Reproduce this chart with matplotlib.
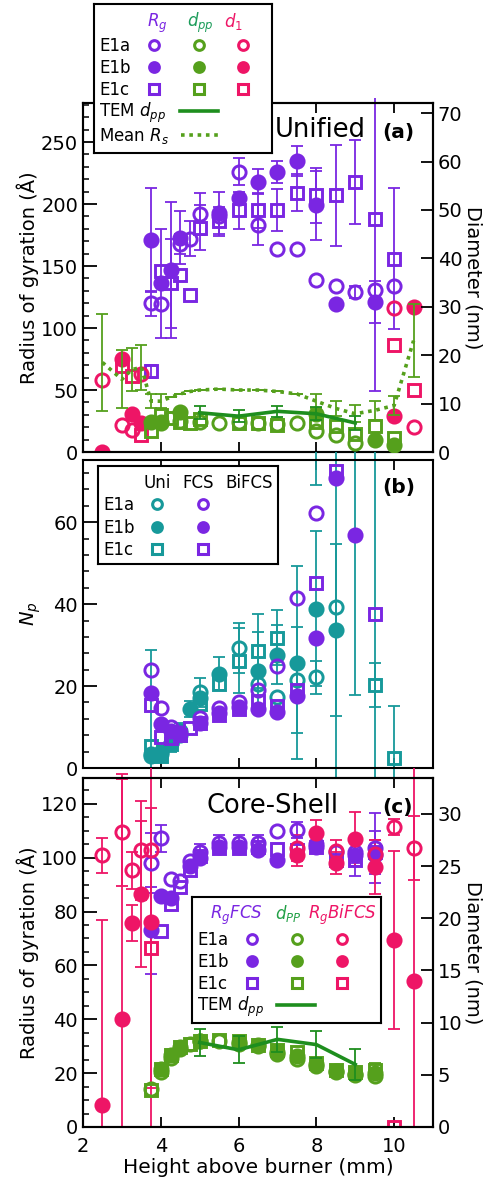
import numpy as np
import matplotlib
matplotlib.use('Agg')
import matplotlib.pyplot as plt
from matplotlib.ticker import MultipleLocator
from matplotlib.transforms import Bbox, TransformedBbox

plt.rcParams['font.family'] = ['DejaVu Sans']
plt.rcParams['mathtext.fontset'] = 'dejavusans'

# ---------------- data ----------------
# Panel (a) Unified: Rg (Angstrom, left axis)
a_rg_e1a_x = [3.75, 4.0, 4.5, 4.75, 5.0, 5.5, 6.0, 6.5, 7.0, 7.5, 8.0, 8.5, 9.0, 9.5, 10.0]
a_rg_e1a_y = [120, 119, 168, 172, 192, 190, 226, 183, 164, 164, 139, 134, 129, 131, 134]
a_rg_e1a_err = [10, 0, 8, 14, 17, 0, 11, 16, 0, 0, 0, 0, 5, 0, 0]
a_rg_e1b_x = [3.75, 4.0, 4.25, 4.5, 5.5, 6.0, 6.5, 7.0, 7.5, 8.0, 8.5, 9.5]
a_rg_e1b_y = [171, 136, 147, 173, 193, 205, 218, 226, 235, 199, 119, 121]
a_rg_e1b_err = [42, 44, 55, 21, 17, 0, 10, 9, 12, 28, 0, 17]
a_rg_e1c_x = [3.75, 4.0, 4.25, 4.5, 4.75, 5.0, 5.5, 6.0, 6.5, 7.0, 7.5, 8.0, 8.5, 9.0, 9.5, 10.0]
a_rg_e1c_y = [65, 146, 136, 143, 127, 181, 186, 195, 195, 195, 209, 207, 207, 218, 188, 156]
a_rg_e1c_err = [5, 0, 36, 0, 0, 18, 12, 15, 14, 17, 15, 22, 41, 34, 139, 57]
# d1 (Angstrom, left axis)
a_d1_e1a_x = [2.5, 3.0, 3.25, 3.5, 10.0, 10.5]
a_d1_e1a_y = [58, 22, 18, 63, 116, 20]
a_d1_e1b_x = [2.5, 3.0, 3.25, 3.5, 10.0, 10.5]
a_d1_e1b_y = [0, 75, 31, 23, 29, 117]
a_d1_e1c_x = [3.0, 3.25, 3.5, 10.0, 10.5]
a_d1_e1c_y = [69, 61, 14, 86, 50]
# dpp (nm, right axis)
a_dpp_e1a_x = [4.0, 4.5, 5.0, 5.5, 6.0, 6.5, 7.0, 7.5, 8.0, 8.5, 9.0]
a_dpp_e1a_y = [6.0, 6.5, 6.3, 5.9, 6.1, 6.0, 5.8, 5.9, 4.3, 3.6, 1.9]
a_dpp_e1b_x = [3.75, 4.0, 4.5, 8.0, 9.5, 10.0]
a_dpp_e1b_y = [6.1, 6.3, 8.2, 7.8, 2.4, 1.4]
a_dpp_e1c_x = [3.75, 4.0, 4.25, 4.5, 4.75, 5.0, 6.0, 6.5, 7.0, 8.0, 8.5, 9.0, 9.5, 10.0]
a_dpp_e1c_y = [4.4, 7.6, 7.1, 6.1, 5.9, 6.9, 6.0, 6.0, 5.6, 6.1, 5.4, 3.7, 5.4, 2.9]
# Mean Rs (nm, right axis)
a_rs_x = [2.5, 3.0, 3.25, 3.5, 3.75, 4.0, 4.25, 4.5, 4.75, 5.0, 5.5, 6.0, 6.5, 7.0, 7.5,
          8.0, 8.5, 9.0, 9.5, 10.0, 10.5]
a_rs_y = [18.5, 15.0, 17.0, 17.5, 10.5, 10.5, 11.3, 12.0, 12.5, 12.8, 13.0, 12.8, 12.8,
          12.5, 12.0, 10.5, 9.0, 7.9, 8.6, 9.6, 23.0]
a_rs_err = [10, 6, 4.4, 4.7, 1.5, 1.5, 0, 0, 0, 0, 0, 0, 0, 0, 0, 1.5, 1.5, 1.8, 2.0, 2.0, 7.5]
# TEM dpp (nm)
tem_x = [5, 6, 7, 8, 9]
tem_y = [8.1, 7.4, 8.4, 7.9, 6.0]
tem_err = [1.3, 1.3, 1.2, 1.3, 1.5]

# Panel (b) Np
b_uni_e1a_x = [3.75, 4.0, 4.25, 4.5, 5.0, 6.0, 6.5, 7.0, 7.5, 8.0, 8.5]
b_uni_e1a_y = [3.5, 4.0, 6.0, 8.0, 18.5, 29.3, 20.5, 17.4, 21.5, 22.1, 39.3]
b_uni_e1a_err = [0, 0, 0, 0, 3.5, 6, 0, 0, 13, 4, 45]
b_uni_e1b_x = [3.75, 4.0, 4.25, 4.5, 4.75, 5.0, 5.5, 6.5, 7.0, 7.5, 8.0, 8.5]
b_uni_e1b_y = [2.9, 3.5, 6.0, 9.0, 14.4, 17.0, 23.0, 23.6, 27.7, 25.7, 38.9, 33.8]
b_uni_e1b_err = [26, 0, 2, 2, 2, 0, 4, 9.5, 7.3, 23.5, 19, 21]
b_uni_e1c_x = [3.75, 4.0, 4.25, 4.5, 5.0, 5.5, 6.0, 6.5, 7.0, 8.0, 9.5, 10.0]
b_uni_e1c_y = [5.4, 2.9, 5.8, 8.0, 15.6, 20.5, 26.2, 28.5, 31.8, 100.0, 20.3, 2.5]
b_uni_e1c_err = [0, 0, 0, 0, 0, 0, 8, 9, 6.7, 31, 5.3, 12.7]
b_fcs_e1a_x = [3.75, 4.0, 4.25, 5.0, 5.5, 6.0, 6.5, 7.0, 7.5, 8.0]
b_fcs_e1a_y = [24.0, 14.6, 10.0, 12.3, 14.6, 16.2, 19.0, 25.0, 41.6, 62.3]
b_fcs_e1b_x = [3.75, 4.0, 4.25, 4.5, 5.0, 5.5, 6.0, 6.5, 7.0, 7.5, 8.0, 8.5, 9.0]
b_fcs_e1b_y = [18.2, 10.7, 9.0, 8.5, 11.0, 13.5, 15.0, 14.4, 13.6, 17.6, 31.7, 70.8, 56.9]
b_fcs_e1b_err = [0, 0, 0, 0, 0, 0, 0, 0, 0, 0, 0, 0, 39]
b_fcs_e1c_x = [3.75, 4.0, 4.25, 4.5, 4.75, 5.0, 5.5, 6.0, 6.5, 7.0, 7.5, 8.0, 8.5, 9.5]
b_fcs_e1c_y = [15.4, 7.6, 7.3, 8.1, 9.7, 11.1, 13.0, 14.4, 16.3, 15.2, 19.0, 45.2, 72.4, 37.7]
b_fcs_e1c_err = [0, 0, 0, 0, 0, 0, 0, 0, 0, 0, 0, 0, 0, 60]

# Panel (c) Core-Shell
c_fcs_e1a_x = [3.75, 4.0, 4.25, 4.5, 4.75, 5.0, 5.5, 6.0, 6.5, 7.0, 7.5, 8.0, 8.5, 9.0, 9.5]
c_fcs_e1a_y = [98, 107.3, 92, 91.5, 98.6, 102, 105.5, 105.5, 105.5, 109.8, 110.4, 105, 102.3, 102, 103.6]
c_fcs_e1a_err = [11, 5, 0, 0, 0, 3, 3, 3, 3, 0, 3, 3, 0, 4, 13]
c_fcs_e1b_x = [3.75, 4.0, 4.25, 4.75, 5.0, 5.5, 6.0, 6.5, 7.0, 8.0, 9.0, 9.5]
c_fcs_e1b_y = [73, 85.6, 85, 97, 100, 104, 104, 102.7, 99.3, 104, 101, 101]
c_fcs_e1b_err = [16, 0, 0, 0, 0, 0, 0, 0, 0, 0, 0, 0]
c_fcs_e1c_x = [4.0, 4.25, 4.5, 4.75, 5.0, 5.5, 6.0, 6.5, 7.0, 7.5, 8.0, 8.5, 9.0, 9.5]
c_fcs_e1c_y = [72.8, 82.9, 89, 95.5, 100.5, 103.6, 103.6, 104, 103.3, 103, 104, 99.3, 99.3, 102]
c_fcs_e1c_err = [0, 0, 0, 0, 0, 0, 0, 0, 0, 0, 0, 0, 6, 8]
c_bi_e1a_x = [2.5, 3.0, 3.25, 3.5, 3.75, 7.5, 8.5, 9.5, 10.0, 10.5]
c_bi_e1a_y = [101, 109.4, 95.3, 102.7, 102.7, 103.6, 102.5, 101.5, 111.3, 103.6]
c_bi_e1a_err = [6.5, 20, 7, 18.3, 0, 5, 4, 5, 3, 12]
c_bi_e1b_x = [2.5, 3.0, 3.25, 3.5, 3.75, 7.5, 8.0, 8.5, 9.0, 9.5, 10.0, 10.5]
c_bi_e1b_y = [8, 40, 75.7, 86.6, 76, 101, 109, 98, 107, 96.5, 69.5, 54.3]
c_bi_e1b_err = [69, 91, 6.8, 27, 110, 4, 5, 4, 10, 10, 33, 100]
c_bi_e1c_x = [3.75, 10.0]
c_bi_e1c_y = [66.4, 0]
c_bi_e1c_err = [52, 0]
c_dpp_e1a_x = [3.75, 4.0, 4.25, 4.5, 4.75, 5.0, 5.5, 6.0, 6.5, 7.0, 7.5, 8.0, 8.5, 9.0, 9.5]
c_dpp_e1a_y = [3.6, 5.3, 6.6, 7.5, 8.0, 8.2, 8.2, 8.0, 7.8, 7.0, 6.5, 5.8, 5.3, 5.0, 4.9]
c_dpp_e1b_x = [4.0, 4.25, 4.5, 5.0, 6.0, 6.5, 7.0, 7.5, 8.0, 8.5, 9.0, 9.5]
c_dpp_e1b_y = [5.6, 6.9, 7.7, 8.2, 8.1, 7.9, 7.2, 6.8, 6.0, 5.4, 5.1, 5.2]
c_dpp_e1c_x = [3.75, 4.0, 4.25, 4.5, 4.75, 5.0, 5.5, 6.0, 6.5, 7.0, 7.5, 8.0, 8.5, 9.0, 9.5]
c_dpp_e1c_y = [3.5, 5.6, 6.9, 7.7, 8.0, 8.2, 8.3, 8.2, 7.9, 7.4, 7.2, 6.1, 5.5, 5.3, 5.5]
c_dpp_e1c_err = [0, 0, 0, 0, 0, 0, 0, 0, 0, 0, 0, 0, 0, 0, 0.6]

x_ticks = [2, 4, 6, 8, 10]

# ---------------- style ----------------
PURPLE = '#7A26E2'
PINK = '#EE1566'
GREEN = '#55A01C'
TEMG = '#1E8E1E'
TEAL = '#17999A'
HDR_A = '#1C9C5A'
HDR_C = '#22A046'

W, H = 488, 1183
fig = plt.figure(figsize=(W / 100, H / 100), dpi=100)


def fax(x0, y0, x1, y1):
    return [x0 / W, 1 - y1 / H, (x1 - x0) / W, (y1 - y0) / H]


def clipbox(ytop, ybot):
    return TransformedBbox(Bbox.from_extents(0, 1 - ybot / H, 1, 1 - ytop / H), fig.transFigure)


MS = {'o': 9.5, 's': 8.5}


def draw(ax, x, y, color, marker, filled, clip, err=None, ecolor=None):
    x = np.asarray(x, float)
    y = np.asarray(y, float)
    if err is not None:
        e = np.asarray(err, float)
        m = e > 0
        if m.any():
            c = ax.errorbar(x[m], y[m], yerr=e[m], fmt='none',
                            ecolor=ecolor or color, elinewidth=1.3, capsize=4.6,
                            capthick=1.3, zorder=2)
            for art in list(c[1]) + list(c[2]):
                art.set_clip_box(clip)
    ax.plot(x, y, ls='none', marker=marker, ms=MS[marker],
            mfc=color if filled else 'none', mec=color, mew=2.1, zorder=3)


def style_axes(ax, ymaj, ymin, xlabels=False):
    ax.set_xlim(2, 11)
    ax.xaxis.set_major_locator(plt.FixedLocator(x_ticks))
    ax.tick_params(axis='x', which='both', direction='in', top=True, bottom=True,
                   length=7, width=1.3, labelbottom=xlabels, labelsize=14, pad=7)
    ax.yaxis.set_major_locator(MultipleLocator(ymaj))
    ax.yaxis.set_minor_locator(MultipleLocator(ymin))
    ax.tick_params(axis='y', which='major', direction='in', length=10, width=1.3,
                   labelsize=14, right=False)
    ax.tick_params(axis='y', which='minor', direction='in', length=4.5, width=1.1,
                   right=False)
    for s in ax.spines.values():
        s.set_linewidth(1.5)


def style_twin(ax2, ymaj):
    ax2.yaxis.set_major_locator(MultipleLocator(ymaj))
    ax2.tick_params(axis='y', which='major', direction='in', length=9, width=1.3,
                    labelsize=14)
    ax2.tick_params(axis='y', which='minor', right=False)
    for s in ax2.spines.values():
        s.set_linewidth(1.5)


# ---------------- panel (a) ----------------
axA = fig.add_axes(fax(83, 103, 433, 452))
style_axes(axA, 50, 10)
axA.set_ylim(0, 281.5)
axA2 = axA.twinx()
axA2.set_ylim(0, 72.1)
style_twin(axA2, 10)
clipA = clipbox(98, 452)

draw(axA, a_rg_e1a_x, a_rg_e1a_y, PURPLE, 'o', False, clipA, a_rg_e1a_err)
draw(axA, a_rg_e1b_x, a_rg_e1b_y, PURPLE, 'o', True, clipA, a_rg_e1b_err)
draw(axA, a_rg_e1c_x, a_rg_e1c_y, PURPLE, 's', False, clipA, a_rg_e1c_err)
draw(axA, a_d1_e1a_x, a_d1_e1a_y, PINK, 'o', False, clipA)
draw(axA, a_d1_e1b_x, a_d1_e1b_y, PINK, 'o', True, clipA)
draw(axA, a_d1_e1c_x, a_d1_e1c_y, PINK, 's', False, clipA)

# Mean Rs dotted with error bars
ca = axA2.errorbar(a_rs_x, a_rs_y, yerr=a_rs_err, fmt='none', ecolor=GREEN,
                   elinewidth=1.3, capsize=4.6, capthick=1.3, zorder=2)
for art in list(ca[1]) + list(ca[2]):
    art.set_clip_box(clipA)
axA2.plot(a_rs_x, a_rs_y, color=GREEN, lw=2.6, ls=(0, (1.0, 1.3)), zorder=2)
draw(axA2, a_dpp_e1a_x, a_dpp_e1a_y, GREEN, 'o', False, clipA)
draw(axA2, a_dpp_e1b_x, a_dpp_e1b_y, GREEN, 'o', True, clipA)
draw(axA2, a_dpp_e1c_x, a_dpp_e1c_y, GREEN, 's', False, clipA)
axA2.errorbar(tem_x, tem_y, yerr=tem_err, color=TEMG, lw=2.6, elinewidth=1.3,
              capsize=4.6, capthick=1.3, zorder=4)
axA.set_ylabel('Radius of gyration (Å)', fontsize=14)
axA.yaxis.set_label_coords(-0.125, 0.5)
axA2.set_ylabel('Diameter (nm)', fontsize=14, rotation=270, va='bottom')
axA2.yaxis.set_label_coords(1.088, 0.5)

# ---------------- panel (b) ----------------
axB = fig.add_axes(fax(83, 460, 433, 768))
style_axes(axB, 20, 4)
axB.set_ylim(0, 75.2)
clipB = clipbox(452, 778)
draw(axB, b_uni_e1a_x, b_uni_e1a_y, TEAL, 'o', False, clipB, b_uni_e1a_err)
draw(axB, b_uni_e1b_x, b_uni_e1b_y, TEAL, 'o', True, clipB, b_uni_e1b_err)
draw(axB, b_uni_e1c_x, b_uni_e1c_y, TEAL, 's', False, clipB, b_uni_e1c_err)
draw(axB, b_fcs_e1a_x, b_fcs_e1a_y, PURPLE, 'o', False, clipB)
draw(axB, b_fcs_e1b_x, b_fcs_e1b_y, PURPLE, 'o', True, clipB, b_fcs_e1b_err, ecolor=TEAL)
draw(axB, b_fcs_e1c_x, b_fcs_e1c_y, PURPLE, 's', False, clipB, b_fcs_e1c_err, ecolor=TEAL)
axB.set_ylabel('$N_p$', fontsize=14)
axB.yaxis.set_label_coords(-0.115, 0.5)

# ---------------- panel (c) ----------------
axC = fig.add_axes(fax(83, 778, 433, 1127))
style_axes(axC, 20, 5, xlabels=True)
axC.set_ylim(0, 129.6)
axC2 = axC.twinx()
axC2.set_ylim(0, 33.45)
style_twin(axC2, 5)
clipC = clipbox(768, 1127)
draw(axC, c_fcs_e1a_x, c_fcs_e1a_y, PURPLE, 'o', False, clipC, c_fcs_e1a_err)
draw(axC, c_fcs_e1b_x, c_fcs_e1b_y, PURPLE, 'o', True, clipC, c_fcs_e1b_err)
draw(axC, c_fcs_e1c_x, c_fcs_e1c_y, PURPLE, 's', False, clipC, c_fcs_e1c_err)
draw(axC, c_bi_e1a_x, c_bi_e1a_y, PINK, 'o', False, clipC, c_bi_e1a_err)
draw(axC, c_bi_e1b_x, c_bi_e1b_y, PINK, 'o', True, clipC, c_bi_e1b_err)
draw(axC, c_bi_e1c_x, c_bi_e1c_y, PINK, 's', False, clipC, c_bi_e1c_err)
draw(axC2, c_dpp_e1a_x, c_dpp_e1a_y, GREEN, 'o', False, clipC)
draw(axC2, c_dpp_e1b_x, c_dpp_e1b_y, GREEN, 'o', True, clipC)
draw(axC2, c_dpp_e1c_x, c_dpp_e1c_y, GREEN, 's', False, clipC, c_dpp_e1c_err)
axC2.errorbar(tem_x, tem_y, yerr=tem_err, color=TEMG, lw=2.6, elinewidth=1.3,
              capsize=4.6, capthick=1.3, zorder=4)
axC.set_ylabel('Radius of gyration (Å)', fontsize=14)
axC.yaxis.set_label_coords(-0.125, 0.5)
axC2.set_ylabel('Diameter (nm)', fontsize=14, rotation=270, va='bottom')
axC2.yaxis.set_label_coords(1.088, 0.5)
axC.set_xlabel('Height above burner (mm)', fontsize=14.5)
axC.xaxis.set_label_coords(0.5, -0.088)


# ---------------- texts ----------------
def ftext(x, y, s, **kw):
    fig.text(x / W, 1 - y / H, s, **kw)


ftext(320, 137, 'Unified', fontsize=18.5, ha='center', va='baseline')
ftext(398, 138, '(a)', fontsize=14.5, fontweight='bold', ha='center', va='baseline')
ftext(399, 493, '(b)', fontsize=14.5, fontweight='bold', ha='center', va='baseline')
ftext(272, 813, 'Core-Shell', fontsize=18.5, ha='center', va='baseline')
ftext(398, 813, '(c)', fontsize=14.5, fontweight='bold', ha='center', va='baseline')


# ---------------- legends ----------------
def legbox(x0, y0, x1, y1):
    lg = fig.add_axes(fax(x0, y0, x1, y1))
    lg.set_xlim(x0, x1)
    lg.set_ylim(y1, y0)
    lg.set_xticks([])
    lg.set_yticks([])
    lg.set_facecolor('white')
    lg.set_zorder(20)
    for s in lg.spines.values():
        s.set_linewidth(1.5)
    return lg


def lmark(lg, x, y, color, marker, filled):
    lg.plot([x], [y], ls='none', marker=marker, ms=7 if marker == 'o' else 6.5,
            mfc=color if filled else 'none', mec=color, mew=2.2)


LF = 12
# legend (a)
lgA = legbox(94, 4, 272, 153)
lgA.text(157, 27, '$R_g$', color=PURPLE, fontsize=LF, ha='center', va='baseline')
lgA.text(200, 27, '$d_{pp}$', color=HDR_A, fontsize=LF, ha='center', va='baseline')
lgA.text(233, 27, '$d_1$', color=PINK, fontsize=LF, ha='center', va='baseline')
for lab, yy, mk, fl in [('E1a', 45, 'o', False), ('E1b', 67, 'o', True), ('E1c', 89, 's', False)]:
    lgA.text(99, yy + 6, lab, fontsize=LF, va='baseline')
    lmark(lgA, 154, yy, PURPLE, mk, fl)
    lmark(lgA, 199, yy, GREEN, mk, fl)
    lmark(lgA, 243, yy, PINK, mk, fl)
lgA.text(99, 117, 'TEM $d_{pp}$', fontsize=LF, va='baseline')
lgA.plot([180, 218], [111, 111], color=TEMG, lw=2.6)
lgA.text(99, 141, 'Mean $R_s$', fontsize=LF, va='baseline')
lgA.plot([181, 218], [135, 135], color=GREEN, lw=2.6, ls=(0, (1.0, 1.3)))

# legend (b)
lgB = legbox(98, 466, 278, 564)
lgB.text(157, 488, 'Uni', fontsize=LF, ha='center', va='baseline')
lgB.text(198, 488, 'FCS', fontsize=LF, ha='center', va='baseline')
lgB.text(249, 488, 'BiFCS', fontsize=LF, ha='center', va='baseline')
for lab, yy, mk, fl in [('E1a', 504, 'o', False), ('E1b', 527, 'o', True), ('E1c', 549, 's', False)]:
    lgB.text(103, yy + 6, lab, fontsize=LF, va='baseline')
    lmark(lgB, 157, yy, TEAL, mk, fl)
    lmark(lgB, 203, yy, PURPLE, mk, fl)

# legend (c)
lgC = legbox(192, 897, 381, 1023)
lgC.text(236, 919, '$R_gFCS$', color=PURPLE, fontsize=LF, ha='center', va='baseline')
lgC.text(288, 919, '$d_{PP}$', color=HDR_C, fontsize=LF, ha='center', va='baseline')
lgC.text(342, 919, '$R_gBiFCS$', color=PINK, fontsize=LF, ha='center', va='baseline')
for lab, yy, mk, fl in [('E1a', 939, 'o', False), ('E1b', 961, 'o', True), ('E1c', 983, 's', False)]:
    lgC.text(197, yy + 6, lab, fontsize=LF, va='baseline')
    lmark(lgC, 252, yy, PURPLE, mk, fl)
    lmark(lgC, 297, yy, GREEN, mk, fl)
    lmark(lgC, 342, yy, PINK, mk, fl)
lgC.text(197, 1011, 'TEM $d_{pp}$', fontsize=LF, va='baseline')
lgC.plot([277, 315], [1005, 1005], color=TEMG, lw=2.6)

fig.savefig('out.png', dpi=100)
